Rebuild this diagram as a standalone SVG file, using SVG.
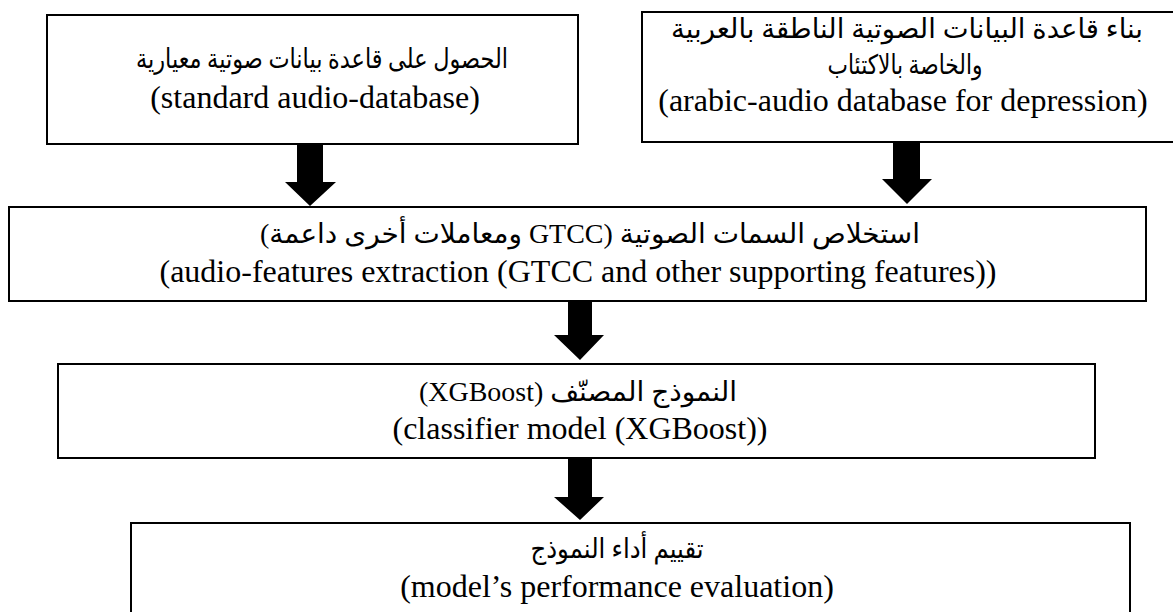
<svg xmlns="http://www.w3.org/2000/svg" width="1173" height="612" viewBox="0 0 1173 612">
<style>
.box{fill:#fff;stroke:#000;stroke-width:2}
.en{font-family:"Liberation Serif","Times New Roman",serif;font-size:32px;fill:#000;text-anchor:middle}
.ar{font-family:"Liberation Serif","DejaVu Sans","Noto Sans",sans-serif;font-size:27px;fill:#000;text-anchor:middle}
.arrow{fill:#000;stroke:none}
</style>
<rect width="1173" height="612" fill="#fff"/>
<g id="node-standard-db">
<rect class="box" x="47" y="15" width="531" height="129"/>
<text class="ar" x="322" y="68" direction="rtl" textLength="372" lengthAdjust="spacingAndGlyphs">الحصول على قاعدة بيانات صوتية معيارية</text>
<text class="en" x="315" y="108">(standard audio-database)</text>
</g>
<g id="node-arabic-db">
<rect class="box" x="642" y="12" width="545" height="130"/>
<text class="ar" x="907" y="38" direction="rtl" textLength="472" lengthAdjust="spacingAndGlyphs">بناء قاعدة البيانات الصوتية الناطقة بالعربية</text>
<text class="ar" x="905" y="74" direction="rtl" textLength="155" lengthAdjust="spacingAndGlyphs">والخاصة بالاكتئاب</text>
<text class="en" x="903" y="111">(arabic-audio database for depression)</text>
</g>
<g id="node-features">
<rect class="box" x="9" y="207" width="1137" height="94"/>
<text class="ar" x="590" y="243" direction="rtl" textLength="660" lengthAdjust="spacingAndGlyphs">استخلاص السمات الصوتية (GTCC ومعاملات أخرى داعمة)</text>
<text class="en" x="578" y="282">(audio-features extraction (GTCC and other supporting features))</text>
</g>
<g id="node-classifier">
<rect class="box" x="58" y="364" width="1037" height="94"/>
<text class="ar" x="578" y="401" direction="rtl" textLength="318" lengthAdjust="spacingAndGlyphs">النموذج المصنّف (XGBoost)</text>
<text class="en" x="580" y="439">(classifier model (XGBoost))</text>
</g>
<g id="node-evaluation">
<rect class="box" x="131" y="523" width="999" height="100"/>
<text class="ar" x="617" y="558" direction="rtl" textLength="173" lengthAdjust="spacingAndGlyphs">تقييم أداء النموذج</text>
<text class="en" x="617" y="597">(model’s performance evaluation)</text>
</g>
<g id="connectors">
<polygon class="arrow" points="297,145 323,145 323,182 336,182 310,206 285,182 297,182"/>
<polygon class="arrow" points="893,143 920,143 920,179 932,179 907,204 882,179 893,179"/>
<polygon class="arrow" points="568,302 592,302 592,335 604,335 580,360 554,335 568,335"/>
<polygon class="arrow" points="568,459 592,459 592,497 604,497 580,520 554,497 568,497"/>
</g>
</svg>
